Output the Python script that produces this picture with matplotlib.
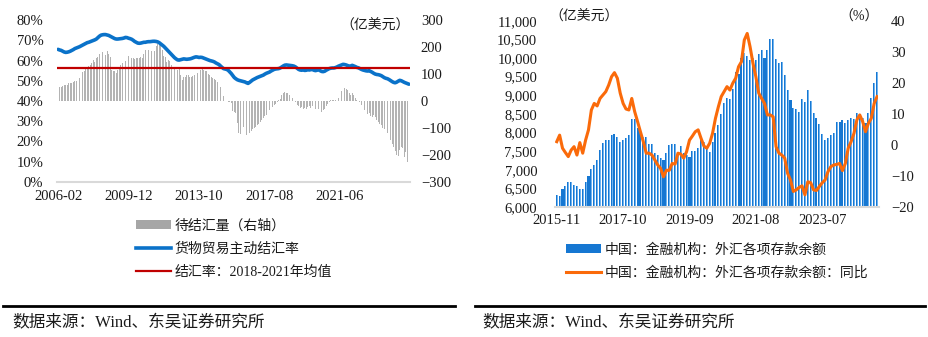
import matplotlib
matplotlib.use("Agg")
import matplotlib.pyplot as plt
from matplotlib.lines import Line2D
from matplotlib.patches import Patch
import numpy as np
import pandas as pd

plt.rcParams['font.family'] = ['Liberation Serif', 'Noto Sans CJK SC']
plt.rcParams['axes.unicode_minus'] = True

# ---------------- Left chart data (monthly, 2006-02 .. 2025-03) ----------------
left_start = "2006-02"
left_ticks = ["2006-02", "2009-12", "2013-10", "2017-08", "2021-06"]
left_pct_ticks = [0, 10, 20, 30, 40, 50, 60, 70, 80]
left_amt_ticks = [-300, -200, -100, 0, 100, 200, 300]

pending_fx = [
    53, 53, 53, 54, 59, 59, 60, 66, 67, 68, 72, 74,
    75, 76, 84, 95, 109, 112, 117, 125, 130, 133, 140, 152,
    145, 160, 164, 175, 186, 180, 189, 170, 186, 175, 162, 115,
    112, 110, 105, 115, 125, 135, 140, 138, 150, 176, 165, 150,
    158, 160, 155, 160, 160, 158, 162, 158, 175, 189, 185, 190,
    185, 186, 188, 185, 205, 210, 213, 208, 189, 168, 162, 146,
    152, 150, 132, 128, 120, 118, 116, 118, 95, 78, 90, 88,
    96, 95, 90, 88, 92, 96, 97, 102, 104, 115, 118, 115,
    112, 110, 100, 98, 88, 85, 82, 78, 72, 70, 52, 48,
    20, 4, 0, -3, -4, -9, -38, -42, -45, -80, -118, -122,
    -90, -95, -110, -125, -130, -118, -110, -105, -100, -96, -90, -85,
    -78, -70, -62, -55, -50, -42, -35, -28, -22, -15, -10, -3,
    2, 8, 21, 30, 35, 28, 30, 22, 20, 10, 8, -5,
    -15, -20, -25, -22, -28, -25, -28, -22, -20, -25, -18, -22,
    -28, -25, -30, -32, -40, -35, -28, -20, -10, -5, 2, 3,
    2, 5, 8, 12, 25, 38, 42, 49, 45, 40, 28, 22,
    30, 21, 10, 3, 0, -5, -15, -28, -35, -40, -48, -45,
    -55, -58, -53, -60, -72, -78, -85, -90, -100, -105, -110, -120,
    -128, -144, -160, -170, -185, -200, -205, -180, -169, -175, -206, -190,
    -225, -226,
]

settle_rate = [
    65.5, 65.2, 65.0, 64.6, 64.2, 64.0, 64.1, 64.3, 64.6, 65.0, 65.4, 65.9,
    66.2, 66.5, 66.8, 67.2, 67.6, 68.0, 68.4, 68.8, 69.0, 69.3, 69.6, 69.9,
    70.2, 70.6, 71.3, 72.0, 72.5, 72.7, 72.8, 72.8, 72.6, 72.4, 72.0, 71.6,
    71.2, 70.8, 70.6, 70.6, 70.7, 70.8, 70.9, 71.1, 71.4, 71.3, 71.0, 70.8,
    70.5, 70.0, 69.4, 69.0, 68.6, 68.5, 68.6, 68.8, 69.0, 69.0, 69.2, 69.3,
    69.3, 69.4, 69.5, 69.5, 69.4, 69.2, 68.8, 68.2, 67.6, 67.0, 66.2, 65.4,
    64.6, 63.8, 63.0, 62.2, 61.4, 60.8, 60.3, 60.2, 60.4, 60.6, 60.8, 60.7,
    60.6, 60.7, 60.8, 61.0, 61.3, 61.6, 61.8, 61.7, 61.5, 61.6, 61.5, 61.2,
    60.9, 60.6, 60.3, 60.0, 59.8, 59.6, 59.3, 58.8, 58.4, 58.0, 57.3, 56.6,
    56.0, 55.8, 55.6, 55.2, 54.4, 53.6, 52.6, 51.6, 51.0, 50.5, 50.2, 50.0,
    49.8, 49.6, 49.4, 49.0, 48.7, 49.2, 49.8, 50.4, 50.8, 51.2, 51.6, 51.9,
    52.2, 52.5, 52.8, 53.3, 53.7, 54.0, 54.3, 54.8, 55.2, 55.6, 55.8, 55.9,
    56.0, 56.3, 56.8, 57.3, 57.7, 57.8, 57.7, 57.6, 57.5, 57.4, 57.2, 56.8,
    56.2, 55.6, 55.3, 55.2, 55.4, 55.1, 55.2, 55.5, 55.3, 55.5, 55.6, 55.2,
    55.0, 55.2, 55.4, 55.0, 54.6, 54.5, 54.7, 55.2, 55.6, 56.0, 56.2, 56.3,
    56.3, 56.5, 56.8, 57.2, 57.5, 57.8, 58.1, 58.0, 57.8, 57.5, 57.2, 57.3,
    57.6, 57.3, 57.0, 56.6, 56.4, 56.0, 55.6, 55.3, 55.1, 54.9, 54.8, 55.0,
    54.6, 54.2, 53.7, 53.3, 53.1, 53.0, 52.8, 52.5, 52.0, 51.5, 51.2, 51.0,
    50.6, 50.1, 49.6, 49.2, 49.0, 49.3, 49.8, 50.2, 50.0, 49.6, 49.2, 48.9,
    48.6, 48.3,
]
avg_rate_2018_2021 = 56.2

# ---------------- Right chart data (monthly, 2015-11 .. 2025-02) ----------------
right_start = "2015-11"
right_ticks = ["2015-11", "2017-10", "2019-09", "2021-08", "2023-07"]
deposit_ticks = [6000, 6500, 7000, 7500, 8000, 8500, 9000, 9500, 10000, 10500, 11000]
yoy_ticks = [-20, -10, 0, 10, 20, 30, 40]

fx_deposits = [
    6330, 6290, 6490, 6570, 6670, 6670, 6600, 6570, 6480, 6480, 6670, 6850,
    7030, 7130, 7270, 7540, 7730, 7790, 7790, 7940, 7960, 7890, 7740, 7800,
    7850, 7940, 8370, 8370, 8120, 8010, 7890, 7890, 7690, 7690, 7460, 7400,
    7310, 7270, 7460, 7670, 7700, 7690, 7490, 7630, 7460, 7400, 7360, 7510,
    7510, 7580, 7830, 7740, 7630, 7490, 7760, 7980, 8210, 8500, 8790, 8920,
    8900, 9160, 9630, 9570, 9990, 10130, 10060, 9950, 9990, 9950, 10110, 10210,
    9990, 10210, 10510, 10510, 9970, 9860, 9880, 9540, 9130, 8880, 8650, 8630,
    8560, 8890, 8830, 9130, 8850, 8540, 8380, 8220, 7960, 7800, 7870, 7940,
    8000, 8280, 8280, 8340, 8270, 8340, 8380, 8360, 8540, 8490, 8380, 8250,
    8540, 8940, 9340, 9620,
]

fx_deposits_yoy = [
    1.1, 3.2, -1.0, -2.4, -3.7, -1.6, -0.5, -3.2, 0.8, -2.6, 1.6, 4.9,
    11.3, 13.4, 12.6, 15.0, 16.1, 17.2, 19.3, 22.0, 23.3, 21.5, 16.7, 13.4,
    11.6, 11.3, 15.0, 10.8, 7.6, 4.3, 1.1, -2.6, -2.6, -3.2, -4.8, -6.4,
    -7.5, -10.2, -8.1, -8.1, -5.9, -6.1, -2.6, -2.9, -4.2, -2.1, 1.6, 2.9,
    4.3, 4.9, 2.2, -0.3, -1.0, 0.6, 3.8, 8.6, 12.3, 15.6, 17.2, 18.8,
    17.7, 19.9, 21.5, 25.2, 26.8, 33.8, 35.9, 31.6, 26.3, 22.0, 16.7, 15.0,
    13.4, 9.7, 9.7, 9.1, -0.5, -2.6, -3.2, -4.2, -9.1, -11.2, -14.9, -14.4,
    -13.6, -13.1, -16.0, -11.8, -12.1, -14.4, -14.6, -13.3, -12.1, -11.2, -8.5, -6.9,
    -6.4, -6.2, -5.9, -8.2, -5.9, -1.0, 1.1, 3.8, 8.1, 9.7, 7.6, 4.3,
    7.0, 8.6, 13.4, 15.6,
]

W, H = 929, 337
fig = plt.figure(figsize=(W / 100, H / 100), dpi=100)

def fx(px):
    return px / W

def fy(py):
    return 1 - py / H

TXT = '#1a1a1a'
TFS = 10.5

# ================= Left chart =================
nL = len(pending_fx)
left_labels = pd.date_range(left_start, periods=nL, freq='MS').strftime('%Y-%m').tolist()
xL = np.arange(nL)

axb = fig.add_axes([fx(57.3), fy(182), fx(409.7) - fx(57.3), fy(20) - fy(182)])
axl = axb.twinx()

axb.bar(xL, pending_fx, width=0.55, color='#b3b3b3', linewidth=0)
axb.set_ylim(-300, 300)
axb.set_xlim(-0.5, nL - 0.5)
axb.yaxis.tick_right()
axb.yaxis.set_label_position('right')
axb.set_yticks(left_amt_ticks)
axb.set_yticklabels([f"{v}".replace('-', '\u2212') for v in left_amt_ticks])
axb.tick_params(axis='y', which='both', left=False, labelleft=False, right=False,
                labelright=True, length=0, pad=8, labelsize=TFS, colors=TXT)
tick_idx = [left_labels.index(t) for t in left_ticks]
axb.set_xticks(tick_idx)
axb.set_xticklabels(left_ticks)
axb.tick_params(axis='x', length=0, pad=6, labelsize=TFS, colors=TXT)
for s in ['top', 'left', 'right']:
    axb.spines[s].set_visible(False)
axb.spines['bottom'].set_color('#d9d9d9')
axb.spines['bottom'].set_linewidth(1.5)

axl.plot(xL, settle_rate, color='#0a72c9', lw=2.6, solid_capstyle='round')
axl.plot([xL[0] - 0.5, xL[-1] + 0.5], [avg_rate_2018_2021] * 2, color='#c00000', lw=1.6)
axl.set_ylim(0, 80)
axl.set_xlim(-0.5, nL - 0.5)
axl.yaxis.tick_left()
axl.yaxis.set_label_position('left')
axl.set_yticks(left_pct_ticks)
axl.set_yticklabels([f"{v}%" for v in left_pct_ticks])
axl.tick_params(axis='y', which='both', right=False, labelright=False, left=False,
                labelleft=True, length=0, pad=10, labelsize=TFS, colors=TXT)
for s in ['top', 'left', 'right', 'bottom']:
    axl.spines[s].set_visible(False)

axb.text(1.0, 0.965, '（亿美元）', transform=axb.transAxes, ha='right', va='center',
         fontsize=10, color=TXT)

hL = [Patch(facecolor='#a6a6a6', edgecolor='none'),
      Line2D([], [], color='#0a72c9', lw=2.6),
      Line2D([], [], color='#c00000', lw=1.6)]
lL = ['待结汇量（右轴）', '货物贸易主动结汇率', '结汇率：2018-2021年均值']
fig.legend(hL, lL, loc='upper left', bbox_to_anchor=(fx(136), fy(219)), frameon=False,
           fontsize=10, handlelength=2.5, handleheight=0.6, handletextpad=0.25,
           labelspacing=0.72, borderpad=0, borderaxespad=0, labelcolor=TXT)

# ================= Right chart =================
nR = len(fx_deposits)
right_labels = pd.date_range(right_start, periods=nR, freq='MS').strftime('%Y-%m').tolist()
xR = np.arange(nR)

axr = fig.add_axes([fx(555.3), fy(207.3), fx(878.5) - fx(555.3), fy(20.7) - fy(207.3)])
axr2 = axr.twinx()

axr.bar(xR, np.array(fx_deposits) - 6000, bottom=6000, width=0.72, color='#1677d2', linewidth=0)
axr.bar(xR + 0.18, np.array(fx_deposits) - 6000, bottom=6000, width=0.3, color='#6fb3ef', linewidth=0)
axr.set_ylim(6000, 11000)
axr.set_xlim(-0.5, nR - 0.5)
axr.set_yticks(deposit_ticks)
axr.set_yticklabels([f"{v:,}" for v in deposit_ticks])
axr.tick_params(axis='y', length=0, pad=13, labelsize=TFS, colors=TXT)
r_tick_idx = [right_labels.index(t) for t in right_ticks]
axr.set_xticks(r_tick_idx)
axr.set_xticklabels(right_ticks)
axr.tick_params(axis='x', length=0, pad=5, labelsize=TFS, colors=TXT)
for s in ['top', 'left', 'right']:
    axr.spines[s].set_visible(False)
axr.spines['bottom'].set_color('#d9d9d9')
axr.spines['bottom'].set_linewidth(1.5)

axr2.plot(xR, fx_deposits_yoy, color='#fa6a0a', lw=2.2)
axr2.set_ylim(-20, 40)
axr2.set_xlim(-0.5, nR - 0.5)
axr2.set_yticks(yoy_ticks)
axr2.set_yticklabels([f"{v}".replace('-', '\u2212') for v in yoy_ticks])
axr2.tick_params(axis='y', length=0, pad=9, labelsize=TFS, colors=TXT)
for s in ['top', 'left', 'right', 'bottom']:
    axr2.spines[s].set_visible(False)

fig.text(fx(549), fy(17), '（亿美元）', ha='left', va='center', fontsize=10, color=TXT)
fig.text(fx(879), fy(17), '（%）', ha='right', va='center', fontsize=10, color=TXT)

hR = [Patch(facecolor='#1677d2', edgecolor='none'),
      Line2D([], [], color='#fa6a0a', lw=2.2)]
lR = ['中国：金融机构：外汇各项存款余额', '中国：金融机构：外汇各项存款余额：同比']
fig.legend(hR, lR, loc='upper left', bbox_to_anchor=(fx(566), fy(243)), frameon=False,
           fontsize=10, handlelength=2.5, handleheight=0.6, handletextpad=0.25,
           labelspacing=0.72, borderpad=0, borderaxespad=0, labelcolor=TXT)

# ================= Footer =================
fig.add_artist(Line2D([fx(3), fx(455)], [fy(306), fy(306)], color='black', lw=2))
fig.add_artist(Line2D([fx(475), fx(925)], [fy(306), fy(306)], color='black', lw=2))
fig.text(fx(12), fy(323), '数据来源：Wind、东吴证券研究所', ha='left', va='center', fontsize=12, color=TXT)
fig.text(fx(482), fy(323), '数据来源：Wind、东吴证券研究所', ha='left', va='center', fontsize=12, color=TXT)

fig.savefig('out.png', dpi=100)
